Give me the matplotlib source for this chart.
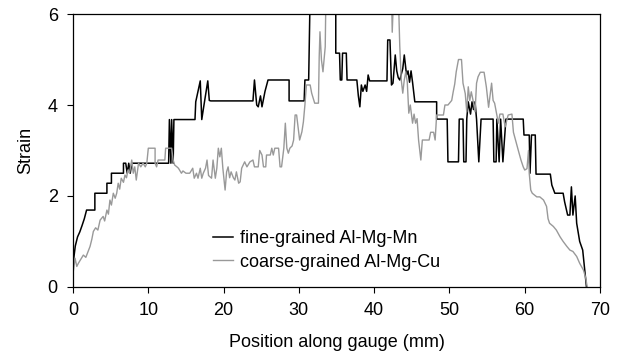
import matplotlib
matplotlib.use("Agg")
import matplotlib.pyplot as plt

plt.rcParams['font.family'] = ['Liberation Sans', 'DejaVu Sans']

# fine-grained Al-Mg-Mn (black)
fine_x = [0, 0.3, 0.6, 0.9, 1.2, 1.5, 1.8, 2.9, 2.9, 4.5, 4.5, 5.1, 5.1, 6.7, 6.7,
          7.0, 7.2, 7.4, 7.6, 7.8, 12.7, 12.8, 13.0, 13.1, 13.3, 13.4, 13.7, 16.2,
          16.3, 16.9, 17.1, 17.3, 17.9, 18.1, 18.3, 23.9, 24.1, 24.4, 24.6, 24.9,
          25.1, 25.5, 25.9, 28.7, 28.7, 30.7, 30.8, 31.3, 31.5, 34.9, 34.9, 35.4,
          35.5, 35.7, 35.8, 36.3, 36.4, 37.7, 37.9, 38.1, 38.3, 38.5, 38.8, 39.0,
          39.2, 39.4, 41.7, 41.8, 42.1, 42.3, 42.5, 42.8, 43.0, 43.2, 43.4, 43.8,
          44.0, 44.3, 44.5, 44.7, 44.9, 45.1, 45.4, 48.3, 48.3, 49.7, 49.8, 51.2,
          51.3, 51.8, 51.9, 52.2, 52.3, 52.5, 52.8, 53.0, 53.2, 53.4, 53.6, 53.9,
          54.2, 55.8, 55.9, 56.2, 56.3, 56.6, 56.8, 57.1, 57.5, 59.8, 59.9, 60.6,
          60.7, 60.9, 61.4, 61.5, 63.4, 63.6, 64.0, 65.1, 65.3, 65.7, 66.0, 66.2,
          66.4, 66.7, 66.9, 67.3, 67.7, 68.2]
fine_y = [0.5, 0.9, 1.1, 1.21, 1.35, 1.5, 1.69, 1.69, 2.06, 2.06, 2.28, 2.28, 2.5, 2.5, 2.72,
          2.72, 2.5, 2.72, 2.5, 2.72, 2.72, 3.68, 2.72, 3.68, 2.72, 3.68, 3.68, 3.68,
          4.07, 4.53, 3.68, 3.9, 4.53, 4.1, 4.09, 4.09, 4.55, 4.0, 3.96, 4.2,
          3.96, 4.3, 4.55, 4.55, 4.09, 4.09, 4.55, 4.55, 6.5, 6.5, 5.14, 5.14,
          4.55, 4.55, 5.14, 5.14, 4.55, 4.55, 4.2, 3.96, 4.44, 4.3, 4.44, 4.3,
          4.66, 4.53, 4.53, 5.43, 5.43, 4.44, 4.48, 5.1, 4.75, 4.6, 4.55, 4.8,
          5.1, 4.66, 4.75, 4.5, 4.75, 4.5, 4.07, 4.07, 3.69, 3.69, 2.75, 2.75,
          3.69, 3.69, 2.75, 2.75, 3.69, 4.07, 3.8, 4.07, 3.9, 4.07, 3.69, 2.75,
          3.69, 3.69, 2.75, 2.75, 3.69, 2.75, 3.69, 2.75, 3.69, 3.69, 3.34, 3.34,
          2.5, 3.34, 3.34, 2.48, 2.48, 2.24, 2.06, 2.06, 1.87, 1.58, 1.58, 2.2,
          1.58, 2.0, 1.4, 1.0, 0.81, 0.0]

# coarse-grained Al-Mg-Cu (grey)
coarse_x = [0, 0.27, 0.5, 0.71, 1.0, 1.37, 1.7, 2.0, 2.26, 2.5, 2.7, 3.0, 3.3, 3.6, 4.0,
            4.2, 4.5, 4.7, 4.9, 5.1, 5.35, 5.6, 5.8, 6.0, 6.2, 6.4, 6.7, 6.9, 7.1,
            7.3, 7.5, 7.8, 8.0, 8.2, 8.4, 8.7, 9.0, 9.3, 9.6, 9.8, 10.0, 10.9, 10.9,
            11.1, 11.3, 12.2, 12.3, 13.1, 13.3, 13.5, 13.8, 14.0, 14.4, 14.6, 15.0,
            15.5, 15.9, 16.1, 16.4, 16.6, 16.9, 17.1, 17.3, 17.6, 17.8, 18.0, 18.4,
            18.6, 18.9, 19.1, 19.3, 19.5, 19.7, 19.9, 20.2, 20.4, 20.6, 20.8, 21.0,
            21.3, 21.5, 21.7, 22.0, 22.2, 22.4, 22.8, 23.1, 23.5, 23.9, 24.1, 24.6,
            24.8, 25.1, 25.3, 25.6, 25.7, 26.2, 26.4, 26.6, 26.8, 27.3, 27.5, 27.7,
            28.0, 28.2, 28.4, 28.6, 28.8, 29.1, 29.3, 29.5, 29.7, 30.1, 30.4, 30.6,
            30.8, 31.0, 31.5, 31.7, 32.1, 32.6, 32.7, 32.8, 33.0, 33.2, 33.5, 33.6,
            42.3, 42.4, 42.6, 43.2, 43.4, 43.6, 43.8, 44.0, 44.2, 44.4, 44.6, 44.8,
            45.1, 45.3, 45.5, 45.7, 45.9, 46.2, 46.4, 47.3, 47.5, 47.9, 48.1, 48.3,
            49.2, 49.4, 49.8, 50.3, 50.5, 50.7, 50.9, 51.2, 51.6, 51.8, 52.1, 52.3,
            52.5, 52.7, 52.9, 53.2, 53.4, 53.6, 53.8, 54.1, 54.6, 54.9, 55.2, 55.6,
            55.8, 56.0, 56.5, 56.7, 57.1, 57.4, 57.8, 58.3, 58.5, 58.9, 59.2, 59.5,
            59.8, 60.0, 60.3, 60.5, 60.6, 60.8, 61.0, 61.6, 62.0, 62.5, 62.9, 63.1,
            63.3, 63.8, 64.2, 64.7, 65.1, 65.6, 66.0, 66.4, 66.9, 67.3, 67.8, 68.1,
            68.3]
coarse_y = [0.3, 0.63, 0.45, 0.52, 0.6, 0.7, 0.65, 0.78, 0.89, 1.05, 1.22, 1.3, 1.25, 1.47, 1.55,
            1.45, 1.69, 1.6, 1.91, 1.8, 2.06, 1.95, 2.06, 2.28, 2.15, 2.39, 2.3, 2.46, 2.4,
            2.57, 2.5, 2.79, 2.5, 2.64, 2.35, 2.72, 2.64, 2.72, 2.64, 2.72, 3.05, 3.05, 2.72,
            2.64, 2.79, 2.79, 3.05, 3.05, 2.79, 2.68, 2.64, 2.61, 2.5, 2.55, 2.5,
            2.5, 2.61, 2.39, 2.5, 2.39, 2.61, 2.39, 2.5, 2.61, 2.79, 2.45, 2.39,
            2.79, 2.39, 2.61, 3.05, 2.86, 3.05, 2.61, 2.13, 2.53, 2.64, 2.4, 2.53,
            2.4, 2.35, 2.53, 2.28, 2.31, 2.61, 2.75, 2.64, 2.75, 2.79, 2.64, 2.64,
            3.0, 2.9, 2.64, 2.64, 2.9, 2.9, 3.05, 2.9, 3.05, 3.05, 2.64, 2.64,
            3.05, 3.6, 3.05, 2.94, 3.05, 3.1, 3.23, 3.78, 3.78, 3.23, 3.41, 3.63,
            4.0, 4.44, 4.44, 4.26, 4.04, 4.04, 5.06, 5.61, 4.99, 4.73, 5.28, 6.5,
            6.5, 5.6, 6.5, 6.5, 5.3, 4.55, 4.26, 4.55, 4.73, 4.5, 3.82, 4.0,
            3.6, 3.8, 3.6, 3.7, 3.23, 2.79, 3.23, 3.23, 3.4, 3.4, 3.23, 3.78,
            3.78, 4.0, 4.0, 4.1, 4.29, 4.46, 4.73, 5.0, 5.0, 4.48, 4.25, 3.85,
            4.4, 4.1, 4.29, 4.05, 3.85, 4.48, 4.62, 4.72, 4.72, 4.4, 3.95, 4.48,
            4.1, 4.04, 3.6, 3.8, 3.8, 3.52, 3.78, 3.8, 3.4, 3.15, 2.97, 2.79,
            2.64, 2.57, 2.6, 3.0, 2.5, 2.13, 2.06, 1.98, 1.98, 1.91, 1.77, 1.5,
            1.4, 1.33, 1.25, 1.1, 1.0, 0.89, 0.81, 0.78, 0.67, 0.52, 0.37, 0.2,
            0.0]

x_ticks = [0, 10, 20, 30, 40, 50, 60, 70]
y_ticks = [0, 2, 4, 6]

fig = plt.figure(figsize=(6.21, 3.6), dpi=100)
ax = fig.add_axes([0.1176, 0.203, 0.8486, 0.758])

ax.plot(fine_x, fine_y, color='black', lw=1.1, label='fine-grained Al-Mg-Mn')
ax.plot(coarse_x, coarse_y, color='#999999', lw=1.0, label='coarse-grained Al-Mg-Cu')

ax.set_xlim(0, 70)
ax.set_ylim(0, 6)
ax.set_xticks(x_ticks)
ax.set_yticks(y_ticks)
ax.tick_params(direction='out', length=4, width=0.8, labelsize=13, pad=7)
for s in ax.spines.values():
    s.set_linewidth(0.9)

ax.set_xlabel('Position along gauge (mm)', fontsize=13, labelpad=11)
ax.set_ylabel('Strain', fontsize=13, labelpad=10)

ax.legend(loc='lower left', bbox_to_anchor=(0.235, 0.0), frameon=False,
          fontsize=13, handlelength=1.1, handletextpad=0.4, labelspacing=0.35)

fig.savefig('out.png', dpi=100)
